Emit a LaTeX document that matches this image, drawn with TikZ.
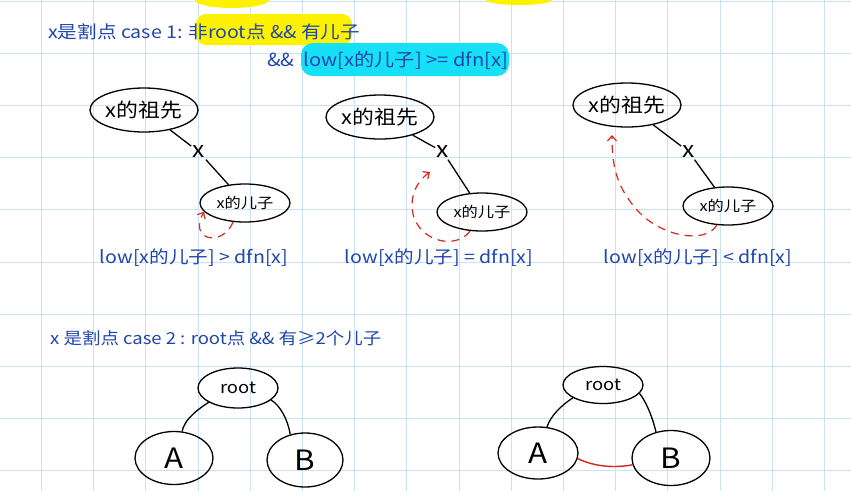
\documentclass[tikz,border=0pt]{standalone}
\usepackage{fontspec}
\setmainfont{Noto Sans CJK SC}
\newfontfamily\hand[FakeStretch=1.12]{Noto Sans CJK SC}
\usetikzlibrary{arrows.meta,shapes.geometric}
\definecolor{gridc}{RGB}{202,226,246}
\definecolor{ink}{RGB}{32,70,172}
\definecolor{redink}{RGB}{212,40,30}
\definecolor{hlyellow}{RGB}{255,242,0}
\definecolor{hlcyan}{RGB}{22,224,246}
\begin{document}
\begin{tikzpicture}[x=1pt,y=-1pt,
  gridline/.style={draw=gridc,line width=1pt},
  bluetext/.style={text=ink,inner sep=0pt,font=\hand\fontsize{17.5}{17.5}\selectfont},
  bignode/.style={draw=black,line width=1.3pt,ellipse,inner sep=0pt,minimum width=101pt,minimum height=44pt,font=\hand\fontsize{19.5}{19.5}\selectfont},
  kidnode/.style={draw=black,line width=1.3pt,ellipse,inner sep=0pt,minimum width=90pt,minimum height=38pt,font=\hand\fontsize{14.5}{14.5}\selectfont},
  treenode/.style={draw=black,line width=1.3pt,ellipse,inner sep=0pt,font=\hand\fontsize{28}{28}\selectfont},
  rootnode/.style={draw=black,line width=1.3pt,ellipse,inner sep=0pt,font=\hand\fontsize{16.5}{16.5}\selectfont},
  xlabel/.style={inner sep=1.5pt,font=\hand\fontsize{22}{22}\selectfont},
  edge/.style={draw=black,line width=1.3pt},
  redarrow/.style={draw=redink,line width=1.2pt,dash pattern=on 8pt off 6pt,-{Straight Barb[length=5pt,width=9pt]}},
  rededge/.style={draw=redink,line width=1.4pt}]
\useasboundingbox (0,0) rectangle (851,491);
\fill[white] (0,0) rectangle (851,491);
% grid
\foreach \i in {0,...,15} \draw[gridline] ({41.5+52.2*\i},0) -- ({41.5+52.2*\i},491);
\foreach \j in {0,...,9} \draw[gridline] (0,{1+52.2*\j}) -- (851,{1+52.2*\j});
% highlights
\fill[hlyellow] (232,0) ellipse [x radius=37pt, y radius=8pt];
\fill[hlyellow] (519,0) ellipse [x radius=33pt, y radius=5pt];
\fill[hlyellow,rounded corners=10pt] (196,14) rectangle (352,45);
\fill[hlcyan,rounded corners=12pt] (301,43) rectangle (509,76);
% titles
\node[bluetext,anchor=west] (t1) at (48,32) {x是割点 case 1: 非root点 \&\& 有儿子};
\node[bluetext,anchor=west,font=\hand\fontsize{18}{18}\selectfont] (t2) at (267,60) {\&\&\ \ low[x的儿子] >= dfn[x]};
\node[bluetext,anchor=west,font=\hand\fontsize{16.5}{16.5}\selectfont] (t3) at (50,338) {x 是割点 case 2 : root点 \&\& 有≥2个儿子};
% diagram 1
\node[bignode] (p1) at (144,110) {x的祖先};
\node[kidnode] (c1) at (245,203) {x的儿子};
\node[xlabel] (x1) at (199,152) {x};
\draw[edge] (p1) -- (x1);
\draw[edge] (x1) -- (c1);
\draw[redarrow] (c1.-122) .. controls (222,248) and (188,240) .. (c1.192);
\node[bluetext] (l1) at (194,258) {low[x的儿子] > dfn[x]};
% diagram 2
\node[bignode] (p2) at (380,117) {x的祖先};
\node[kidnode] (c2) at (482,212) {x的儿子};
\node[xlabel] (x2) at (443,152) {x};
\coordinate (t2tip) at (430,172);
\draw[edge] (p2) -- (x2);
\draw[edge] (x2) -- (c2);
\draw[redarrow] (c2.-122) .. controls (455,252) and (412,240) .. (412,205) .. controls (412,190) and (420,179) .. (t2tip);
\node[bluetext] (l2) at (439,258) {low[x的儿子] = dfn[x]};
% diagram 3
\node[bignode] (p3) at (627,105) {x的祖先};
\node[kidnode] (c3) at (728,206) {x的儿子};
\node[xlabel] (x3) at (689,152) {x};
\coordinate (t3tip) at (612,135);
\draw[edge] (p3) -- (x3);
\draw[edge] (x3) -- (c3);
\draw[redarrow] (c3.-120) .. controls (705,245) and (660,236) .. (637,210) .. controls (618,188) and (612,170) .. (t3tip);
\node[bluetext] (l3) at (698,258) {low[x的儿子] < dfn[x]};
% tree 1
\node[rootnode,minimum width=80pt,minimum height=40pt] (r1) at (238,388) {root};
\node[treenode,minimum width=78pt,minimum height=53pt] (a1) at (174,458) {A};
\node[treenode,minimum width=76pt,minimum height=54pt] (b1) at (305,460) {B};
\draw[edge] (r1.206) .. controls (192,413) and (184,422) .. (a1.73);
\draw[edge] (r1.-20) .. controls (280,405) and (288,420) .. (b1.120);
% tree 2
\node[rootnode,minimum width=80pt,minimum height=37pt] (r2) at (603,385) {root};
\node[treenode,minimum width=80pt,minimum height=52pt] (a2) at (538,453) {A};
\node[treenode,minimum width=78pt,minimum height=55pt] (b2) at (671,458) {B};
\draw[edge] (r2.203) .. controls (562,405) and (551,415) .. (a2.71);
\draw[edge] (r2.-13) .. controls (645,400) and (652,415) .. (b2.120);
\draw[rededge] (a2.-8) .. controls (595,467) and (615,468) .. (b2.190);
\end{tikzpicture}
\end{document}
